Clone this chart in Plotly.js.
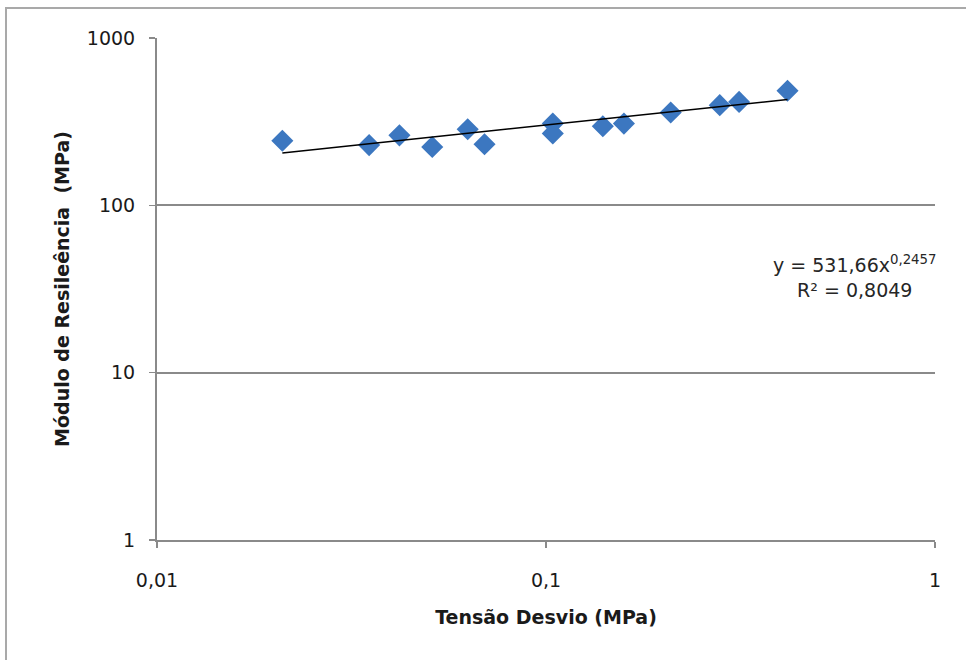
<!DOCTYPE html>
<html>
<head>
<meta charset="utf-8">
<script src="https://cdn.plot.ly/plotly-3.0.1.min.js"></script>
<style>
  html, body { margin: 0; padding: 0; background: #ffffff; }
  #wrap { position: relative; width: 966px; height: 660px; overflow: hidden; }
  #chart { position: absolute; left: 0; top: 0; width: 966px; height: 660px; }
  #frame { position: absolute; left: 5px; top: 7px; width: 980px; height: 700px;
           border-left: 2px solid #a9a9a9; border-top: 2px solid #a9a9a9; pointer-events: none; }
</style>
</head>
<body>
<div id="wrap">
  <div id="chart"></div>
  <div id="frame"></div>
</div>
<script>
// Data
const tensaoDesvio = [0.0210, 0.0351, 0.0420, 0.0510, 0.0629, 0.0695, 0.1041, 0.1041, 0.140, 0.1586, 0.2092, 0.2797, 0.3136, 0.4177];
const moduloResiliencia = [243, 229, 262, 223, 285, 232, 308, 269, 297, 308, 359, 397, 415, 484];

// Power trendline given in the chart: y = a * x^b
const trendA = 531.66;
const trendB = 0.2457;
const trendText = "y = 531,66x<sup>0,2457</sup><br>R² = 0,8049";

// Axis ticks
const xTickVals = [0.01, 0.1, 1];
const xTickText = ["0,01", "0,1", "1"];
const yTickVals = [1, 10, 100, 1000];
const yTickText = ["1", "10", "100", "1000"];

const xMin = Math.min(...tensaoDesvio);
const xMax = Math.max(...tensaoDesvio);
const trendX = [xMin, xMax];
const trendY = trendX.map(v => trendA * Math.pow(v, trendB));

const traces = [
  {
    x: tensaoDesvio, y: moduloResiliencia,
    type: "scatter", mode: "markers",
    marker: { symbol: "diamond", size: 17, color: "#3c77c0", line: { width: 0 } },
    hoverinfo: "x+y", showlegend: false
  },
  {
    x: trendX, y: trendY,
    type: "scatter", mode: "lines",
    line: { color: "#000000", width: 1.5 },
    hoverinfo: "skip", showlegend: false
  }
];

const tickFont = { family: "DejaVu Sans, Verdana, sans-serif", size: 19, color: "#1a1a1a" };
const titleFont = { family: "DejaVu Sans, Verdana, sans-serif", size: 19, color: "#1a1a1a", weight: "bold" };

const layout = {
  width: 966, height: 660,
  margin: { l: 157, r: 31, t: 38, b: 120 },
  paper_bgcolor: "#ffffff",
  plot_bgcolor: "#ffffff",
  showlegend: false,
  xaxis: {
    type: "log", range: [-2, 0],
    tickmode: "array", tickvals: xTickVals, ticktext: xTickText,
    ticks: "outside", ticklen: 6, tickcolor: "#8a8a8a", tickwidth: 1.5,
    ticklabelstandoff: 16,
    showline: true, linecolor: "#8a8a8a", linewidth: 2,
    showgrid: false, zeroline: false,
    tickfont: tickFont,
    title: { text: "Tensão Desvio (MPa)", font: titleFont, standoff: 21 }
  },
  yaxis: {
    type: "log", range: [0, 3],
    tickmode: "array", tickvals: yTickVals, ticktext: yTickText,
    ticks: "outside", ticklen: 6, tickcolor: "#8a8a8a", tickwidth: 1.5,
    ticklabelstandoff: 10,
    showline: true, linecolor: "#8a8a8a", linewidth: 2,
    showgrid: true, gridcolor: "#8a8a8a", gridwidth: 2,
    zeroline: false,
    tickfont: tickFont,
    title: { text: "Módulo de Resileência  (MPa)", font: titleFont, standoff: 12 }
  },
  annotations: [
    {
      xref: "paper", yref: "paper",
      x: 0.897, y: 0.525, xanchor: "center", yanchor: "middle",
      text: trendText, showarrow: false, align: "center",
      font: { family: "DejaVu Sans, Verdana, sans-serif", size: 19, color: "#262626" }
    }
  ]
};

Plotly.newPlot("chart", traces, layout, { displayModeBar: false, staticPlot: true });
</script>
</body>
</html>
